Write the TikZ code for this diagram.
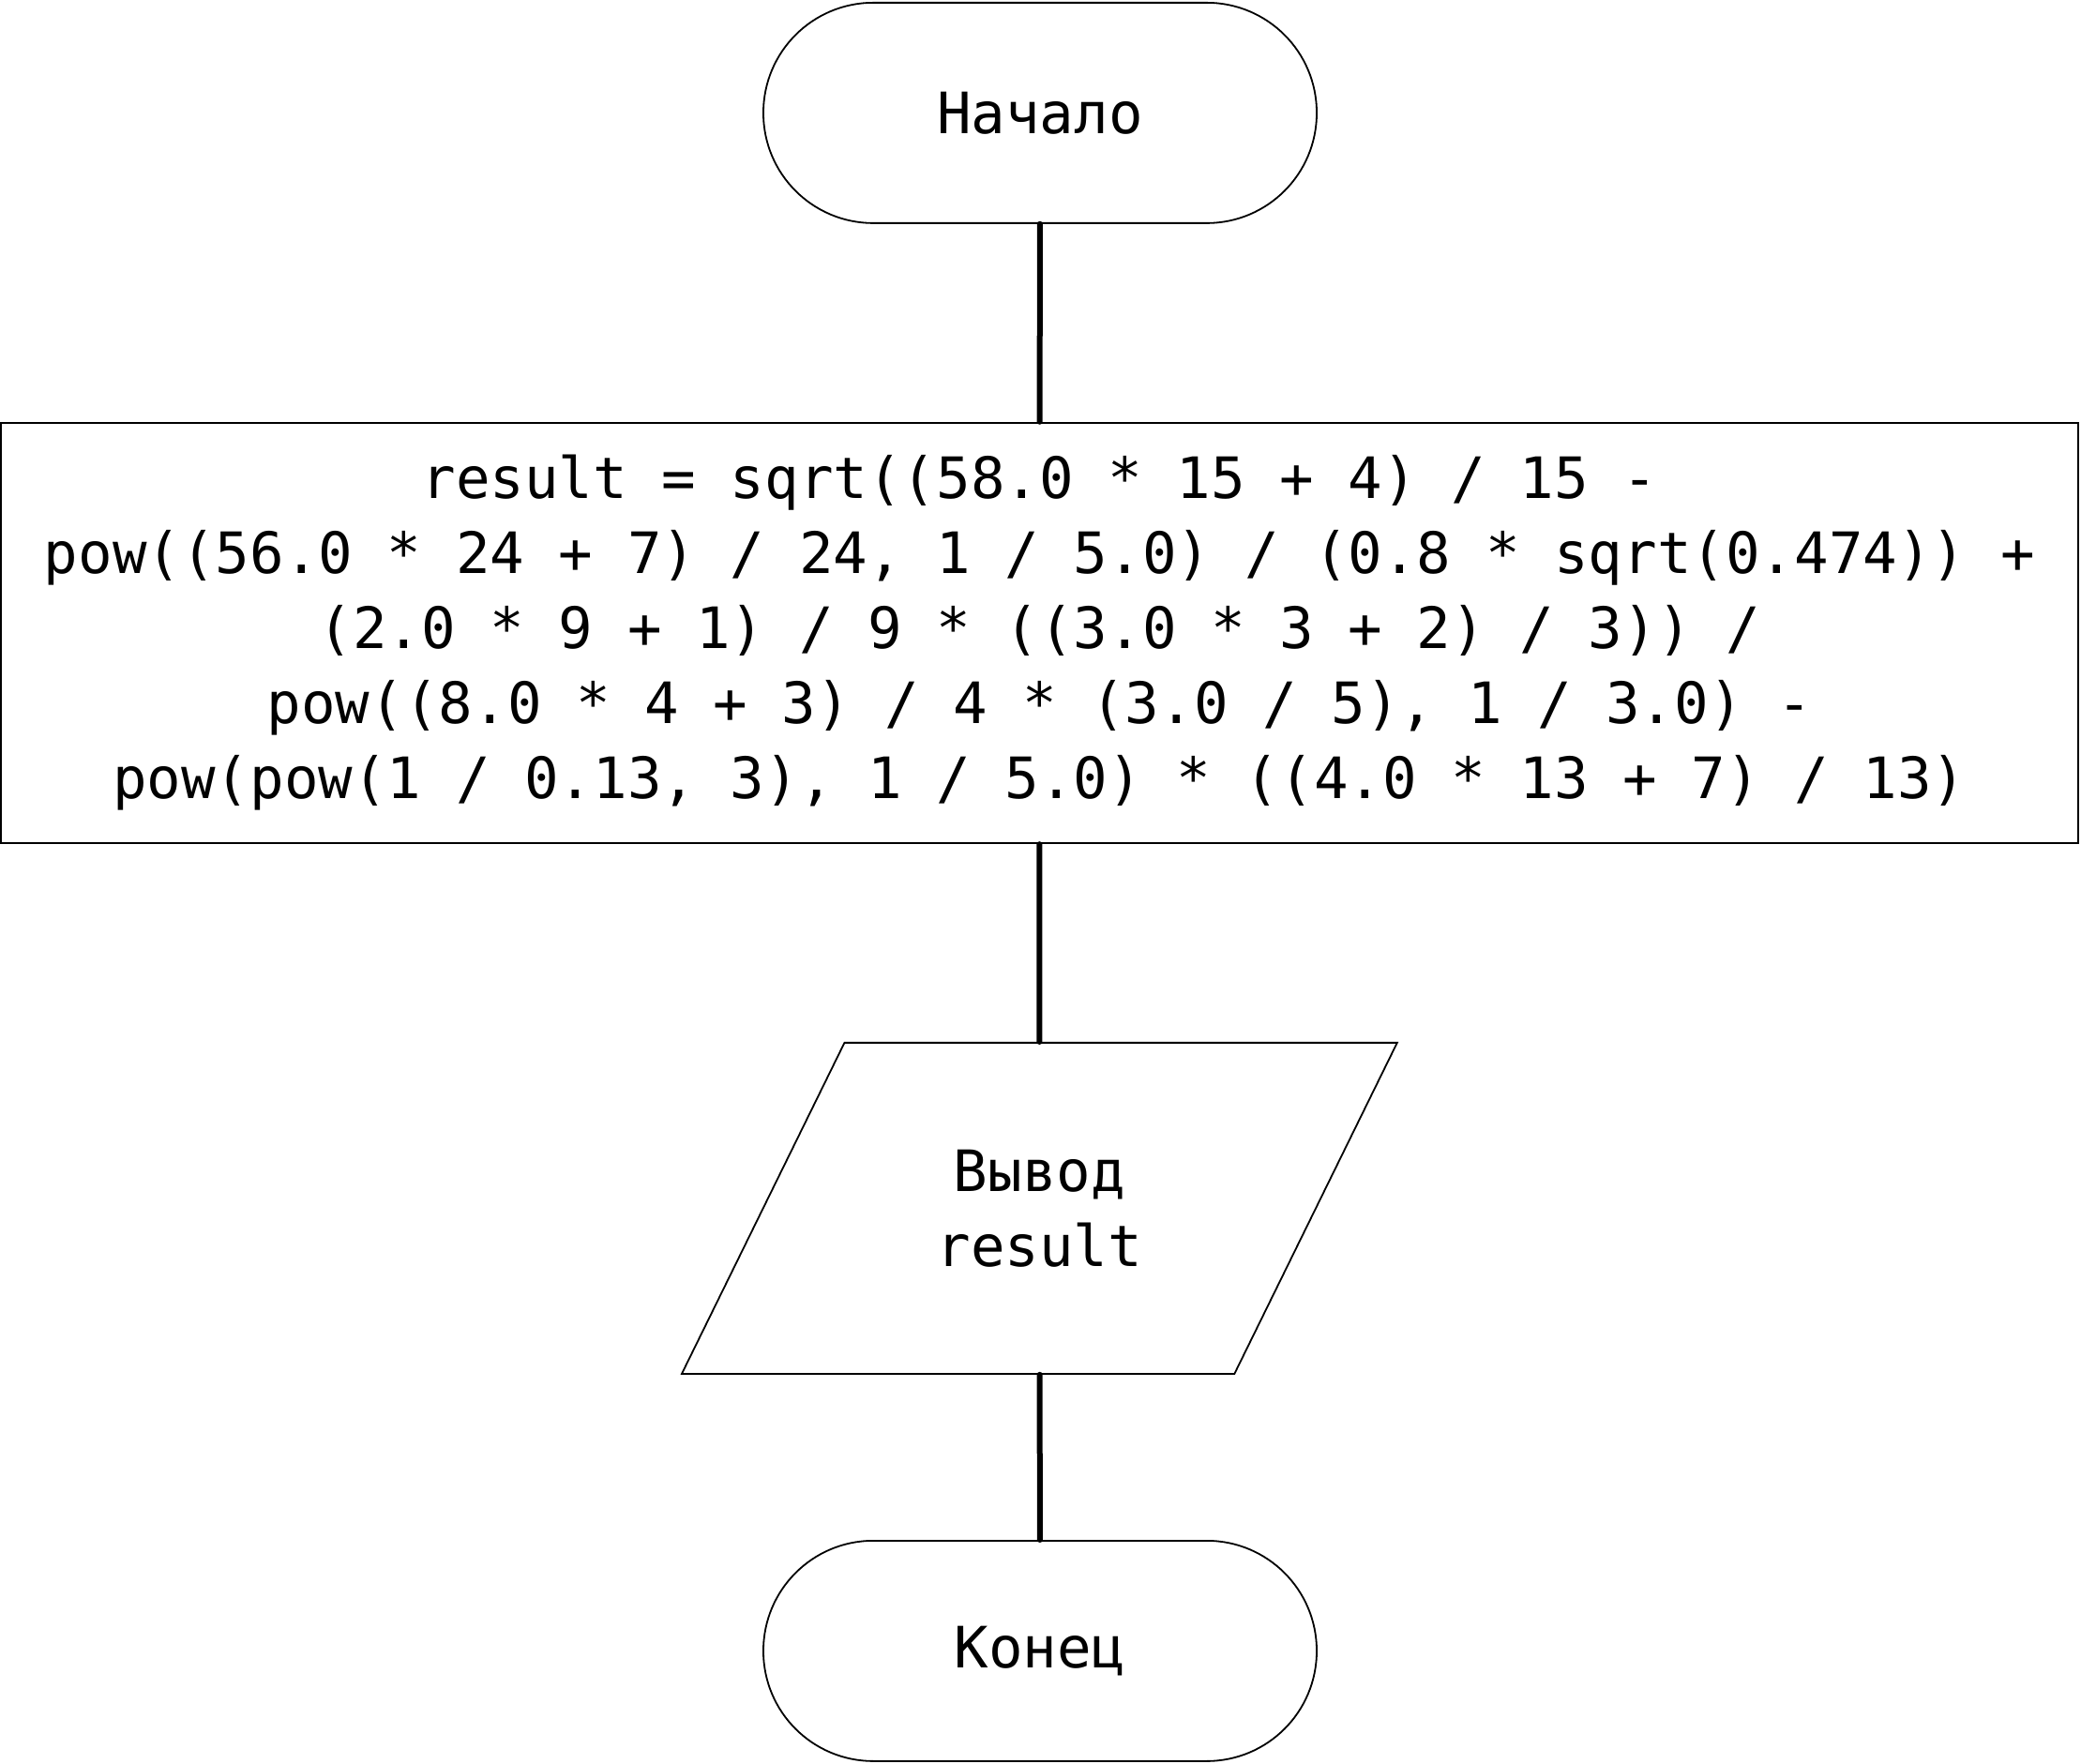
\documentclass[tikz,border=0pt]{standalone}
\usepackage{fontspec}
\usepackage{tikz}
\usetikzlibrary{shapes.geometric}
\newfontfamily\flowfont{DejaVu Sans Mono}
\tikzstyle{blk} = [font={\flowfont\fontsize{15.2}{20}\selectfont}, align=center, inner sep=0pt]
\tikzstyle{term} = [blk, draw=black, line width=0.45pt, rounded corners=29.3pt, minimum width=147.5pt, minimum height=58.75pt]
\tikzstyle{proc} = [blk, draw=black, line width=0.6pt, minimum width=553.75pt, minimum height=112pt]
\tikzstyle{io} = [blk, draw=black, line width=0.45pt, trapezium, trapezium left angle=53.8, trapezium right angle=126.2, trapezium stretches=true, minimum width=191.5pt, minimum height=88.25pt]
\tikzstyle{link} = [line width=1.5pt, line cap=round]

\begin{document}
\begin{tikzpicture}
    \useasboundingbox (0,0) rectangle (554.75pt,-470.25pt);
    \node[term](0) at (277.25pt,-30.1pt){Начало};
    \node[proc](1) at (277.1pt,-168.75pt){result = sqrt((58.0 * 15 + 4) / 15 -\\pow((56.0 * 24 + 7) / 24, 1 / 5.0) / (0.8 * sqrt(0.474)) +\\(2.0 * 9 + 1) / 9 * ((3.0 * 3 + 2) / 3)) /\\pow((8.0 * 4 + 3) / 4 * (3.0 / 5), 1 / 3.0) -\\pow(pow(1 / 0.13, 3), 1 / 5.0) * ((4.0 * 13 + 7) / 13)};
    \node[io](2) at (277.1pt,-322.1pt){Вывод\\result};
    \node[term](3) at (277.25pt,-440.1pt){Конец};
    \draw[link](0)--(1);
    \draw[link](1)--(2);
    \draw[link](2)--(3);
  \end{tikzpicture}
\end{document}
